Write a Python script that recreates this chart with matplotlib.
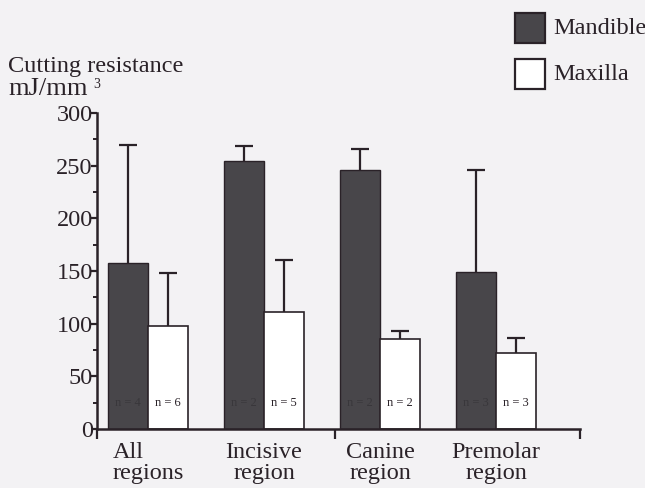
import matplotlib.pyplot as plt
from matplotlib.patches import Rectangle
import numpy as np

# values
regions = ["All\nregions", "Incisive\nregion", "Canine\nregion", "Premolar\nregion"]
mandible = [158, 254, 246, 149]
mandible_sd = [112, 15, 20, 97]
maxilla = [98, 111, 85, 72]
maxilla_sd = [50, 49, 8, 14]
n_mandible = ["n = 4", "n = 2", "n = 2", "n = 3"]
n_maxilla = ["n = 6", "n = 5", "n = 2", "n = 3"]
series = ["Mandible", "Maxilla"]

paper = "#f3f2f4"
ink = "#2a2228"
dark = "#48464a"
serif = "Liberation Serif"
fs = 17.5

W, H = 645, 488
fig = plt.figure(figsize=(W / 100, H / 100), dpi=100, facecolor=paper)
ax = fig.add_axes([97 / W, 59 / H, 483 / W, 316 / H])
ax.set_facecolor(paper)

x = np.arange(len(regions))
w = 0.345
cap = 0.08
ax.bar(x, mandible, width=-w, align="edge", color=dark, edgecolor=ink, lw=1.0, zorder=2)
ax.bar(x, maxilla, width=w, align="edge", color="white", edgecolor=ink, lw=1.2, zorder=2)

# upward-only error bars, no cap at the bar top
for xs, m, sd in [(x - w / 2, mandible, mandible_sd), (x + w / 2, maxilla, maxilla_sd)]:
    top = np.array(m) + np.array(sd)
    ax.vlines(xs, m, top, color=ink, lw=1.6, zorder=1)
    ax.hlines(top, xs - cap, xs + cap, color=ink, lw=1.6, zorder=1)

for i in range(len(regions)):
    ax.text(x[i] - w / 2, 25, n_mandible[i], ha="center", va="center",
            fontsize=9, family=serif, color="#39373b", zorder=3)
    ax.text(x[i] + w / 2, 25, n_maxilla[i], ha="center", va="center",
            fontsize=9, family=serif, color=ink, zorder=3)

ax.set_xlim(-0.44, 3.724)
ax.set_ylim(0, 300)
ax.set_yticks(np.arange(0, 301, 50))
ax.set_yticks(np.arange(25, 300, 50), minor=True)
ax.set_xticks(x)
ax.set_xticklabels(regions, family=serif, fontsize=fs, color=ink, linespacing=1.0)
ax.get_xticklabels()[0].set_multialignment("left")
ax.set_xticks([-0.44, 1.61, 3.724], minor=True)
ax.tick_params(axis="x", which="major", length=0, pad=9)
ax.tick_params(axis="x", which="minor", length=7, width=1.6, color=ink, direction="out")
ax.tick_params(axis="y", which="major", length=4, width=1.6, color=ink, pad=-1,
               labelsize=fs, labelcolor=ink)
ax.tick_params(axis="y", which="minor", length=3, width=1.4, color=ink)
for lab in ax.get_yticklabels():
    lab.set_family(serif)

for s in ["top", "right"]:
    ax.spines[s].set_visible(False)
for s in ["left", "bottom"]:
    ax.spines[s].set_color(ink)
    ax.spines[s].set_linewidth(1.8)

fig.text(8 / W, 1 - 72 / H, "Cutting resistance", family=serif, fontsize=fs,
         color=ink, va="baseline")
unit = fig.text(8 / W, 1 - 95 / H, "mJ/mm", family=serif, fontsize=19,
                color=ink, va="baseline")
fig.canvas.draw()
ext = unit.get_window_extent()
fig.text((ext.x1 + 6) / W, 1 - 88 / H, "3", family=serif, fontsize=10,
         color=ink, va="baseline", ha="left")

# legend drawn as boxes with labels
for k, (name, fc) in enumerate(zip(series, [dark, "white"])):
    y0 = 13 + 46 * k
    fig.patches.append(Rectangle((515 / W, 1 - (y0 + 30) / H), 30 / W, 30 / H,
                                 transform=fig.transFigure, facecolor=fc,
                                 edgecolor=ink, lw=1.6))
    fig.text(553 / W, 1 - (y0 + 15) / H, name, family=serif, fontsize=fs,
             color=ink, va="center", ha="left")

fig.savefig("out.png", dpi=100, facecolor=paper)
